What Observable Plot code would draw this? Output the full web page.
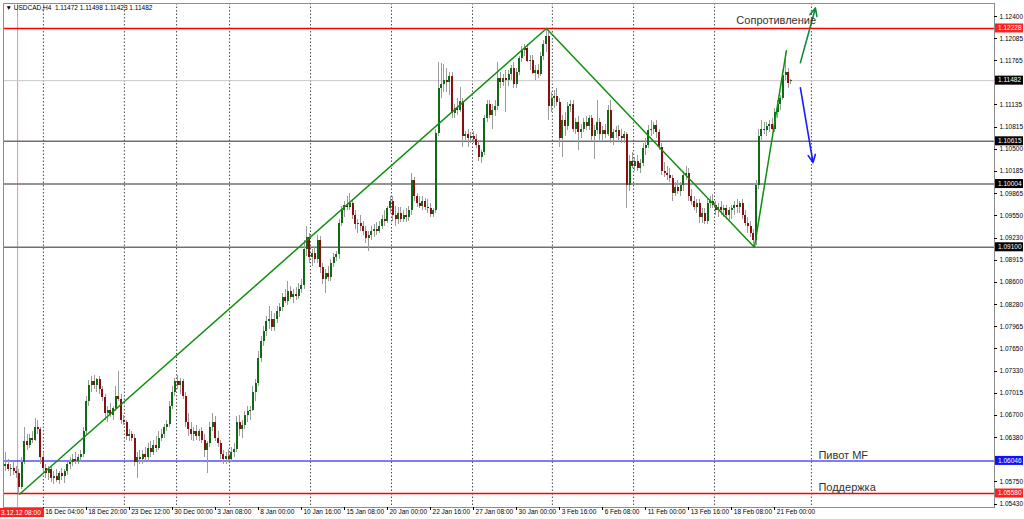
<!DOCTYPE html>
<html><head><meta charset="utf-8">
<script src="https://cdn.jsdelivr.net/npm/d3@7"></script>
<script src="https://cdn.jsdelivr.net/npm/@observablehq/plot@0.6"></script>
<style>
html,body{margin:0;padding:0;background:#fff;overflow:hidden}
#chart{width:1024px;height:519px}
svg{display:block}
</style></head>
<body><div id="chart"></div>
<script>
// ---- data (USDCAD H4 candles) ----
const opens = [
1.0596,1.0600,1.0592,1.0594,1.0589,1.0586,1.0567,1.0603,1.0632,1.0626,
1.0637,1.0634,1.0653,1.0649,1.0610,1.0594,1.0586,1.0592,1.0579,1.0583,
1.0577,1.0586,1.0582,1.0589,1.0599,1.0603,1.0607,1.0604,1.0610,1.0614,
1.0646,1.0689,1.0712,1.0718,1.0713,1.0721,1.0706,1.0695,1.0672,1.0677,
1.0669,1.0679,1.0696,1.0692,1.0663,1.0660,1.0640,1.0643,1.0636,1.0603,
1.0610,1.0606,1.0614,1.0609,1.0623,1.0617,1.0627,1.0623,1.0637,1.0643,
1.0652,1.0657,1.0682,1.0703,1.0718,1.0712,1.0718,1.0696,1.0660,1.0649,
1.0643,1.0646,1.0640,1.0646,1.0634,1.0620,1.0629,1.0653,1.0660,1.0637,
1.0629,1.0614,1.0606,1.0611,1.0607,1.0617,1.0621,1.0660,1.0649,1.0655,
1.0669,1.0675,1.0677,1.0703,1.0715,1.0751,1.0775,1.0789,1.0804,1.0807,
1.0795,1.0807,1.0818,1.0824,1.0838,1.0833,1.0847,1.0838,1.0842,1.0840,
1.0850,1.0856,1.0907,1.0924,1.0896,1.0901,1.0893,1.0919,1.0881,1.0864,
1.0873,1.0867,1.0887,1.0896,1.0899,1.0944,1.0962,1.0970,1.0967,1.0973,
1.0956,1.0942,1.0944,1.0939,1.0933,1.0922,1.0927,1.0933,1.0936,1.0933,
1.0940,1.0950,1.0947,1.0965,1.0976,1.0956,1.0950,1.0959,1.0950,1.0956,
1.0953,1.0962,1.1005,1.0982,1.0973,1.0969,1.0976,1.0967,1.0965,1.0957,
1.0962,1.1072,1.1137,1.1142,1.1148,1.1145,1.1154,1.1101,1.1108,1.1105,
1.1118,1.1068,1.1071,1.1065,1.1069,1.1064,1.1055,1.1039,1.1045,1.1094,
1.1114,1.1098,1.1105,1.1111,1.1151,1.1145,1.1151,1.1148,1.1157,1.1165,
1.1142,1.1160,1.1180,1.1191,1.1194,1.1176,1.1177,1.1159,1.1163,1.1157,
1.1183,1.1200,1.1211,1.1111,1.1122,1.1125,1.1117,1.1065,1.1091,1.1082,
1.1111,1.1114,1.1079,1.1088,1.1074,1.1079,1.1088,1.1082,1.1094,1.1068,
1.1077,1.1088,1.1071,1.1077,1.1071,1.1105,1.1065,1.1074,1.1077,1.1068,
1.1065,1.1071,1.0998,1.1033,1.1026,1.1033,1.1023,1.1030,1.1051,1.1056,
1.1077,1.1079,1.1084,1.1074,1.1053,1.1019,1.1016,1.1012,1.1008,1.0987,
1.0996,1.0990,1.0998,1.1012,1.1016,1.0982,1.0976,1.0967,1.0973,1.0953,
1.0959,1.0947,1.0973,1.0976,1.0970,1.0962,1.0967,1.0962,1.0965,1.0956,
1.0962,1.0965,1.0970,1.0967,1.0972,1.0956,1.0944,1.0939,1.0930,1.0919,
1.0998,1.1069,1.1079,1.1077,1.1082,1.1085,1.1079,1.1102,1.1114,1.1122,
1.1155,1.1160,1.11472];
const highs = [
1.0617,1.0606,1.0600,1.0603,1.0596,1.0592,1.0610,1.0653,1.0643,1.0643,
1.0646,1.0665,1.0663,1.0652,1.0617,1.0600,1.0596,1.0597,1.0589,1.0592,
1.0589,1.0594,1.0592,1.0603,1.0610,1.0614,1.0617,1.0614,1.0620,1.0653,
1.0696,1.0720,1.0725,1.0726,1.0723,1.0725,1.0711,1.0700,1.0682,1.0686,
1.0682,1.0711,1.0732,1.0700,1.0669,1.0663,1.0649,1.0647,1.0642,1.0617,
1.0620,1.0620,1.0624,1.0630,1.0632,1.0634,1.0640,1.0646,1.0649,1.0657,
1.0663,1.0689,1.0711,1.0723,1.0726,1.0723,1.0721,1.0703,1.0672,1.0660,
1.0653,1.0655,1.0649,1.0652,1.0643,1.0632,1.0660,1.0672,1.0668,1.0646,
1.0634,1.0620,1.0617,1.0621,1.0624,1.0629,1.0668,1.0669,1.0663,1.0675,
1.0682,1.0683,1.0711,1.0721,1.0761,1.0782,1.0797,1.0811,1.0825,1.0818,
1.0815,1.0825,1.0830,1.0844,1.0850,1.0861,1.0854,1.0850,1.0853,1.0858,
1.0864,1.0919,1.0940,1.0930,1.0907,1.0911,1.0927,1.0926,1.0887,1.0878,
1.0883,1.0893,1.0901,1.0904,1.0950,1.0969,1.0976,1.0983,1.0987,1.0979,
1.0962,1.0950,1.0955,1.0947,1.0939,1.0933,1.0939,1.0942,1.0945,1.0947,
1.0956,1.0962,1.0969,1.0983,1.0982,1.0969,1.0967,1.0967,1.0962,1.0965,
1.0969,1.1016,1.1010,1.0987,1.0983,1.0982,1.0980,1.0979,1.0973,1.0965,
1.1079,1.1174,1.1173,1.1171,1.1165,1.1160,1.1160,1.1114,1.1122,1.1138,
1.1122,1.1076,1.1079,1.1074,1.1076,1.1071,1.1062,1.1048,1.1098,1.1120,
1.1120,1.1114,1.1120,1.1174,1.1160,1.1157,1.1163,1.1163,1.1170,1.1174,
1.1165,1.1183,1.1197,1.1200,1.1200,1.1184,1.1184,1.1170,1.1171,1.1188,
1.1206,1.1223,1.1217,1.1131,1.1134,1.1137,1.1122,1.1098,1.1102,1.1117,
1.1120,1.1120,1.1094,1.1097,1.1085,1.1094,1.1097,1.1098,1.1099,1.1084,
1.1120,1.1094,1.1082,1.1085,1.1112,1.1120,1.1079,1.1082,1.1084,1.1079,
1.1076,1.1074,1.1041,1.1045,1.1039,1.1041,1.1036,1.1059,1.1065,1.1084,
1.1091,1.1088,1.1091,1.1079,1.1059,1.1031,1.1025,1.1022,1.1013,1.1002,
1.1005,1.1002,1.1019,1.1026,1.1022,1.0993,1.0983,1.0979,1.0979,1.0965,
1.0965,1.0979,1.0983,1.0985,1.0976,1.0973,1.0976,1.0970,1.0970,1.0967,
1.0970,1.0976,1.0979,1.0976,1.0979,1.0962,1.0953,1.0947,1.0936,1.1005,
1.1079,1.1091,1.1088,1.1088,1.1091,1.1094,1.1108,1.1120,1.1127,1.1163,
1.1188,1.1165,1.11498];
const lows = [
1.0589,1.0589,1.0583,1.0584,1.0579,1.0556,1.0564,1.0600,1.0620,1.0623,
1.0629,1.0632,1.0643,1.0600,1.0586,1.0580,1.0577,1.0574,1.0571,1.0574,
1.0571,1.0577,1.0573,1.0584,1.0592,1.0597,1.0600,1.0599,1.0603,1.0610,
1.0642,1.0682,1.0703,1.0706,1.0703,1.0700,1.0689,1.0663,1.0660,1.0666,
1.0663,1.0675,1.0689,1.0657,1.0655,1.0634,1.0632,1.0632,1.0596,1.0579,
1.0600,1.0599,1.0603,1.0603,1.0610,1.0613,1.0617,1.0619,1.0632,1.0637,
1.0646,1.0653,1.0678,1.0696,1.0706,1.0700,1.0692,1.0653,1.0640,1.0634,
1.0632,1.0634,1.0632,1.0629,1.0610,1.0586,1.0624,1.0646,1.0632,1.0624,
1.0606,1.0600,1.0599,1.0603,1.0603,1.0609,1.0617,1.0639,1.0637,1.0649,
1.0660,1.0663,1.0675,1.0689,1.0711,1.0746,1.0768,1.0782,1.0793,1.0789,
1.0789,1.0801,1.0810,1.0818,1.0830,1.0827,1.0835,1.0830,1.0834,1.0835,
1.0844,1.0850,1.0897,1.0887,1.0883,1.0887,1.0887,1.0873,1.0857,1.0844,
1.0861,1.0861,1.0881,1.0890,1.0893,1.0939,1.0953,1.0962,1.0962,1.0950,
1.0936,1.0930,1.0933,1.0927,1.0916,1.0904,1.0919,1.0924,1.0927,1.0929,
1.0936,1.0940,1.0944,1.0959,1.0947,1.0940,1.0942,1.0945,1.0945,1.0945,
1.0947,1.0956,1.0976,1.0967,1.0965,1.0962,1.0962,1.0959,1.0952,1.0953,
1.0959,1.1069,1.1122,1.1131,1.1131,1.1127,1.1094,1.1094,1.1099,1.1102,
1.1052,1.1062,1.1052,1.1058,1.1059,1.1051,1.1033,1.1030,1.1041,1.1088,
1.1094,1.1079,1.1097,1.1105,1.1137,1.1140,1.1102,1.1140,1.1148,1.1137,
1.1137,1.1155,1.1174,1.1183,1.1174,1.1163,1.1157,1.1148,1.1151,1.1154,
1.1177,1.1188,1.1091,1.1102,1.1108,1.1111,1.1052,1.1038,1.1069,1.1077,
1.1102,1.1074,1.1071,1.1048,1.1065,1.1074,1.1077,1.1077,1.1062,1.1036,
1.1071,1.1062,1.1062,1.1065,1.1068,1.1059,1.1055,1.1065,1.1062,1.1059,
1.1059,1.0966,1.0990,1.1022,1.1019,1.1019,1.1016,1.1026,1.1041,1.1051,
1.1068,1.1071,1.1065,1.1048,1.1012,1.1010,1.1005,1.1002,1.0976,1.0982,
1.0985,1.0982,1.0990,1.1005,1.0976,1.0970,1.0962,1.0959,1.0944,1.0944,
1.0942,1.0942,1.0965,1.0965,1.0956,1.0953,1.0956,1.0953,1.0950,1.0947,
1.0950,1.0956,1.0959,1.0959,1.0950,1.0939,1.0930,1.0924,1.0910,1.0913,
1.0993,1.1062,1.1071,1.1068,1.1074,1.1077,1.1074,1.1094,1.1105,1.1120,
1.1148,1.1137,1.11423];
const closes = [
1.0600,1.0592,1.0594,1.0589,1.0586,1.0567,1.0603,1.0632,1.0626,1.0637,
1.0634,1.0653,1.0649,1.0610,1.0594,1.0586,1.0592,1.0579,1.0583,1.0577,
1.0586,1.0582,1.0589,1.0599,1.0603,1.0607,1.0604,1.0610,1.0614,1.0646,
1.0689,1.0712,1.0718,1.0713,1.0721,1.0706,1.0695,1.0672,1.0677,1.0669,
1.0679,1.0696,1.0692,1.0663,1.0660,1.0640,1.0643,1.0636,1.0603,1.0610,
1.0606,1.0614,1.0609,1.0623,1.0617,1.0627,1.0623,1.0637,1.0643,1.0652,
1.0657,1.0682,1.0703,1.0718,1.0712,1.0718,1.0696,1.0660,1.0649,1.0643,
1.0646,1.0640,1.0646,1.0634,1.0620,1.0629,1.0653,1.0660,1.0637,1.0629,
1.0614,1.0606,1.0611,1.0607,1.0617,1.0621,1.0660,1.0649,1.0655,1.0669,
1.0675,1.0677,1.0703,1.0715,1.0751,1.0775,1.0789,1.0804,1.0807,1.0795,
1.0807,1.0818,1.0824,1.0838,1.0833,1.0847,1.0838,1.0842,1.0840,1.0850,
1.0856,1.0907,1.0924,1.0896,1.0901,1.0893,1.0919,1.0881,1.0864,1.0873,
1.0867,1.0887,1.0896,1.0899,1.0944,1.0962,1.0970,1.0967,1.0973,1.0956,
1.0942,1.0944,1.0939,1.0933,1.0922,1.0927,1.0933,1.0936,1.0933,1.0940,
1.0950,1.0947,1.0965,1.0976,1.0956,1.0950,1.0959,1.0950,1.0956,1.0953,
1.0962,1.1005,1.0982,1.0973,1.0969,1.0976,1.0967,1.0965,1.0957,1.0962,
1.1072,1.1137,1.1142,1.1148,1.1145,1.1154,1.1101,1.1108,1.1105,1.1118,
1.1068,1.1071,1.1065,1.1069,1.1064,1.1055,1.1039,1.1045,1.1094,1.1114,
1.1098,1.1105,1.1111,1.1151,1.1145,1.1151,1.1148,1.1157,1.1165,1.1142,
1.1160,1.1180,1.1191,1.1194,1.1176,1.1177,1.1159,1.1163,1.1157,1.1183,
1.1200,1.1211,1.1111,1.1122,1.1125,1.1117,1.1065,1.1091,1.1082,1.1111,
1.1114,1.1079,1.1088,1.1074,1.1079,1.1088,1.1082,1.1094,1.1068,1.1077,
1.1088,1.1071,1.1077,1.1071,1.1105,1.1065,1.1074,1.1077,1.1068,1.1065,
1.1071,1.0998,1.1033,1.1026,1.1033,1.1023,1.1030,1.1051,1.1056,1.1077,
1.1079,1.1084,1.1074,1.1053,1.1019,1.1016,1.1012,1.1008,1.0987,1.0996,
1.0990,1.0998,1.1012,1.1016,1.0982,1.0976,1.0967,1.0973,1.0953,1.0959,
1.0947,1.0973,1.0976,1.0970,1.0962,1.0967,1.0962,1.0965,1.0956,1.0962,
1.0965,1.0970,1.0967,1.0972,1.0956,1.0944,1.0939,1.0930,1.0919,1.0998,
1.1069,1.1079,1.1077,1.1082,1.1085,1.1079,1.1102,1.1114,1.1122,1.1155,
1.1160,1.1144,1.11482];

// time axis labels (bar index of each labelled bar)
const timeLabels = ["16 Dec 04:00","18 Dec 20:00","23 Dec 12:00","30 Dec 00:00","3 Jan 08:00","8 Jan 00:00","10 Jan 16:00","15 Jan 08:00","20 Jan 00:00","22 Jan 16:00","27 Jan 08:00","30 Jan 00:00","3 Feb 16:00","6 Feb 08:00","11 Feb 00:00","13 Feb 16:00","18 Feb 08:00","21 Feb 00:00"];
const timeLabelBars = [14,30,46,62,78,94,110,126,142,158,174,190,206,222,238,254,270,286];
// week separators (bar positions)
const weekStarts = [14.1,44.2,63.6,83.3,113.4,143.5,173.6,203.3,233.5,263.6,299.6];
const cursorBar = 4.5;
const cursorLabel = "3.12.12 08:00";

// price axis
const priceTicks = [1.12400,1.12085,1.11765,1.11135,1.10815,1.10500,1.10185,1.09865,1.09550,1.09230,1.08915,1.08600,1.08280,1.07965,1.07650,1.07330,1.07015,1.06700,1.06380,1.05750,1.05430];

// horizontal levels
const levelPrices = [1.12228,1.11482,1.10615,1.10004,1.09100,1.06046,1.05580];
const levelColors = ["#ff0000","#c8c8c8","#707070","#707070","#707070","#5050ff","#ff0000"];
const levelWidths = [1.5,1,1.5,1.5,1.5,1.5,1.5];
const levelBoxColors = ["#ff2020","#000000","#000000","#000000","#000000","#1010ff","#ff2020"];

// trend line (ZigZag) and forecast arrows
const trendBars = [5.2,201.1,278.4,290.3];
const trendPrices = [1.0557,1.12228,1.0910,1.1191];
const arrowFromBars = [295.5,295.5];
const arrowFromPrices = [1.1174,1.1138];
const arrowToBars = [301.1,300.2];
const arrowToPrices = [1.1252,1.1031];
const arrowColors = ["#0a8a3c","#1a1aff"];

// text labels
const noteTexts = ["Сопротивление","Пивот MF","Поддержка"];
const noteBars = [271.7,302.2,302.2];
const notePrices = [1.1234,1.0613,1.0566];
const titleText = "▼ USDCAD,H4  1.11472 1.11498 1.11423 1.11482";

// ---- build tables ----
const bars = opens.map((o,i)=>({i, o, h: highs[i], l: lows[i], c: closes[i],
  col: closes[i] >= o ? "#0f6a16" : "#8a0f0f"}));
const levels = levelPrices.map((p,k)=>({p, stroke: levelColors[k], w: levelWidths[k]}));
const trend = trendBars.map((b,k)=>({b, p: trendPrices[k]}));
const arrows = arrowFromBars.map((b,k)=>({x1:b, y1:arrowFromPrices[k], x2:arrowToBars[k], y2:arrowToPrices[k], color:arrowColors[k]}));
const notes = noteTexts.map((t,k)=>({t, b: noteBars[k], p: notePrices[k]}));
const tticks = timeLabels.map((t,k)=>({t, b: timeLabelBars[k]}));

const FONT = "'Liberation Sans', Arial, sans-serif";
const plot = Plot.plot({
  width: 1024, height: 519,
  marginLeft: 3, marginRight: 30, marginTop: 3, marginBottom: 12,
  x: {type: "linear", domain: [-0.74, 367.66], axis: null},
  y: {type: "linear", domain: [1.05380, 1.12585], axis: null},
  color: {type: "identity"},
  style: {fontFamily: FONT, background: "#fff", overflow: "visible"},
  marks: [
    Plot.ruleX(weekStarts, {stroke: "#4a4a4a", strokeDasharray: "1.5,2"}),
    Plot.ruleX([cursorBar], {stroke: "#ff8c8c"}),
    Plot.ruleY(levels, {y: "p", stroke: "stroke", strokeWidth: "w"}),
    Plot.ruleX(bars, {x: "i", y1: "l", y2: "h", stroke: "#9c9c9c", shapeRendering: "crispEdges"}),
    Plot.ruleX(bars, {x: "i", y1: "o", y2: "c", stroke: "col", strokeWidth: 2, shapeRendering: "crispEdges"}),
    Plot.line(trend, {x: "b", y: "p", stroke: "#0f8f0f", strokeWidth: 1.5}),
    Plot.arrow(arrows, {x1: "x1", y1: "y1", x2: "x2", y2: "y2", stroke: "color", strokeWidth: 1.6, headLength: 8, headAngle: 50}),
    Plot.text(notes, {x: "b", y: "p", text: "t", textAnchor: "start", fontSize: 11, fill: "#333"}),
    Plot.frame({stroke: "#8c8c8c"}),
    Plot.text(priceTicks, {y: d => d, text: d => d.toFixed(5), frameAnchor: "right", textAnchor: "start", dx: 5, fontSize: 6.5, fill: "#000"}),
    Plot.text(tticks, {x: "b", text: "t", frameAnchor: "bottom", lineAnchor: "top", textAnchor: "start", dx: 2, dy: 2, fontSize: 6.5, fill: "#000"}),
    Plot.text([titleText], {frameAnchor: "top-left", lineAnchor: "top", textAnchor: "start", dx: 2, dy: 2, fontSize: 6.5, fill: "#000"})
  ]
});
document.getElementById("chart").appendChild(plot);

// axis tick marks, highlighted price labels and the cursor time label
const xs = plot.scale("x"), ys = plot.scale("y");
const svg = d3.select(plot);
const ticks = svg.append("g").attr("stroke", "#000").attr("shape-rendering", "crispEdges");
priceTicks.forEach(p => { const yy = Math.round(ys.apply(p)) + 0.5;
  ticks.append("line").attr("x1", 994).attr("x2", 997).attr("y1", yy).attr("y2", yy); });
timeLabelBars.forEach(b => { const xx = Math.round(xs.apply(b)) + 0.5;
  ticks.append("line").attr("x1", xx).attr("x2", xx).attr("y1", 507).attr("y2", 510); });
const g = svg.append("g").attr("font-family", FONT).attr("font-size", 6.5).attr("text-anchor", "start");
levelPrices.forEach((p,k)=>{
  const yy = ys.apply(p);
  g.append("rect").attr("x", 995).attr("y", yy - 4.5).attr("width", 28).attr("height", 9).attr("fill", levelBoxColors[k]);
  g.append("text").attr("x", 998).attr("y", yy).attr("dy", "0.35em").attr("fill", "#fff").text(p.toFixed(5));
});
g.append("rect").attr("x", 0).attr("y", 508).attr("width", 44).attr("height", 9).attr("fill", "#ff2020");
g.append("text").attr("x", 1).attr("y", 512.5).attr("dy", "0.35em").attr("fill", "#fff").text(cursorLabel);
</script>
</body></html>
